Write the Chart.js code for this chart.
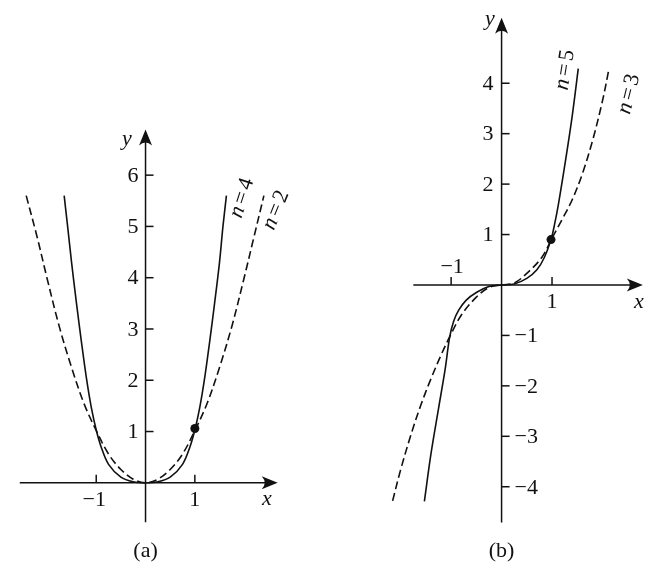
<!DOCTYPE html>
<html>
<head>
<meta charset="utf-8">
<script src="https://cdn.jsdelivr.net/npm/chart.js@4/dist/chart.umd.min.js"></script>
<style>
  html, body { margin: 0; padding: 0; background: #fff; }
  #wrap { position: relative; width: 655px; height: 568px; }
  canvas { display: block; }
  .pre { position: absolute; left: -1000px; top: 0; font-family: "Liberation Serif"; font-size: 22px; }
</style>
</head>
<body>
<div class="pre">0123456789 <i>nxy</i> (ab)=−</div>
<div id="wrap"><canvas id="c" width="655" height="568"></canvas></div>
<script>
// ---- Panel (a): y = x^2 (dashed) and y = x^4 (solid) ----
const xA_n2 = [-2.42, -2.2, -2.0, -1.75, -1.5, -1.25, -1.0, -0.75, -0.5, -0.25, 0, 0.25, 0.5, 0.75, 1.0, 1.25, 1.5, 1.75, 2.0, 2.2, 2.4];
const yA_n2 = [5.6, 4.8, 4.0, 3.05, 2.25, 1.55, 1.02, 0.56, 0.26, 0.07, 0, 0.07, 0.26, 0.56, 1.02, 1.55, 2.25, 3.05, 4.0, 4.8, 5.6];
const xA_n4 = [-1.65, -1.58, -1.5, -1.4, -1.3, -1.2, -1.1, -1.0, -0.9, -0.75, -0.5, -0.25, 0, 0.25, 0.5, 0.75, 0.9, 1.0, 1.1, 1.2, 1.3, 1.4, 1.5, 1.57, 1.64];
const yA_n4 = [5.6, 5.0, 4.3, 3.5, 2.75, 2.05, 1.47, 1.03, 0.7, 0.36, 0.11, 0.02, 0, 0.02, 0.11, 0.36, 0.7, 1.03, 1.47, 2.05, 2.75, 3.5, 4.3, 5.0, 5.6];
const dotA = [1.0, 1.06];
const xTicksA = [-1, 1];
const xTickLabelsA = ["\u22121", "1"];
const yTicksA = [1, 2, 3, 4, 5, 6];

// ---- Panel (b): y = x^3 (dashed) and y = x^5 (solid) ----
const xB_n3 = [-2.16, -2.0, -1.8, -1.6, -1.4, -1.2, -1.03, -0.8, -0.5, -0.25, 0, 0.25, 0.5, 0.8, 1.0, 1.2, 1.4, 1.6, 1.8, 2.0, 2.13];
const yB_n3 = [-4.28, -3.66, -2.98, -2.38, -1.86, -1.39, -1.03, -0.6, -0.24, -0.05, 0, 0.04, 0.23, 0.55, 0.93, 1.3, 1.69, 2.2, 2.85, 3.65, 4.29];
const xB_n5 = [-1.53, -1.4, -1.25, -1.12, -1.03, -0.95, -0.85, -0.7, -0.5, -0.25, 0, 0.25, 0.5, 0.7, 0.85, 0.98, 1.05, 1.13, 1.26, 1.4, 1.52];
const yB_n5 = [-4.29, -3.35, -2.45, -1.68, -1.04, -0.72, -0.5, -0.3, -0.15, -0.03, 0, 0.02, 0.13, 0.3, 0.55, 0.9, 1.2, 1.62, 2.42, 3.35, 4.29];
const dotB = [0.98, 0.9];
const xTicksB = [-1, 1];
const xTickLabelsB = ["\u22121", "1"];
const yTicksBpos = [1, 2, 3, 4];
const yTicksBneg = [-1, -2, -3, -4];

const pts = (xs, ys) => xs.map((x, i) => ({ x: x, y: ys[i] }));

const SERIF = '"Liberation Serif", "DejaVu Serif", serif';
const FS = 22;

function arrowHead(ctx, x, y, dir) {
  ctx.save();
  ctx.translate(x, y);
  if (dir === 'up') ctx.rotate(-Math.PI / 2);
  ctx.beginPath();
  ctx.moveTo(0, 0);
  ctx.lineTo(-16, -6.5);
  ctx.quadraticCurveTo(-10, 0, -16, 6.5);
  ctx.closePath();
  ctx.fillStyle = '#111';
  ctx.fill();
  ctx.restore();
}

function rotLabel(ctx, cx, cy, angDeg, num) {
  ctx.save();
  ctx.translate(cx, cy);
  ctx.rotate(angDeg * Math.PI / 180);
  ctx.fillStyle = '#111';
  ctx.textBaseline = 'middle';
  const fi = 'italic ' + FS + 'px ' + SERIF;
  const fu = FS + 'px ' + SERIF;
  ctx.font = fi; const wn = ctx.measureText('n').width;
  ctx.font = fu; const we = ctx.measureText('=').width; const wd = ctx.measureText(num).width;
  const gap = 3;
  const total = wn + gap + we + gap + wd;
  let x = -total / 2;
  ctx.font = fi; ctx.textAlign = 'left'; ctx.fillText('n', x, 0); x += wn + gap;
  ctx.font = fu; ctx.fillText('=', x, 0); x += we + gap;
  ctx.fillText(num, x, 0);
  ctx.restore();
}

const axesPlugin = {
  id: 'axesPlugin',
  beforeDatasetsDraw(chart) {
    const ctx = chart.ctx;
    const s = chart.scales;
    ctx.save();
    ctx.strokeStyle = '#111';
    ctx.fillStyle = '#111';
    ctx.lineWidth = 1.5;

    // ----- Panel (a) -----
    const ax0 = s.xa.getPixelForValue(0), ay0 = s.ya.getPixelForValue(0);
    const axL = s.xa.getPixelForValue(-2.55), axR = s.xa.getPixelForValue(2.68);
    const ayB = s.ya.getPixelForValue(-0.77), ayT = s.ya.getPixelForValue(6.89);
    ctx.beginPath(); ctx.moveTo(axL, ay0); ctx.lineTo(axR - 6, ay0); ctx.stroke();
    ctx.beginPath(); ctx.moveTo(ax0, ayB); ctx.lineTo(ax0, ayT + 6); ctx.stroke();
    arrowHead(ctx, axR, ay0, 'right');
    arrowHead(ctx, ax0, ayT, 'up');
    ctx.font = FS + 'px ' + SERIF;
    yTicksA.forEach(v => {
      const py = s.ya.getPixelForValue(v);
      ctx.beginPath(); ctx.moveTo(ax0, py); ctx.lineTo(ax0 + 8, py); ctx.stroke();
      ctx.textAlign = 'right'; ctx.textBaseline = 'middle';
      ctx.fillText(String(v), ax0 - 7, py + 1);
    });
    xTicksA.forEach((v, i) => {
      const px = s.xa.getPixelForValue(v);
      ctx.beginPath(); ctx.moveTo(px, ay0); ctx.lineTo(px, ay0 - 8); ctx.stroke();
      ctx.textAlign = 'center'; ctx.textBaseline = 'middle';
      ctx.fillText(xTickLabelsA[i], px - (v < 0 ? 2 : 0), ay0 + 17);
    });
    ctx.font = 'italic ' + FS + 'px ' + SERIF;
    ctx.textAlign = 'center'; ctx.textBaseline = 'middle';
    ctx.fillText('x', 267, ay0 + 16);
    ctx.fillText('y', 127, 139);
    ctx.font = FS + 'px ' + SERIF;
    ctx.fillText('(a)', ax0, 551);

    // ----- Panel (b) -----
    const bx0 = s.xb.getPixelForValue(0), by0 = s.yb.getPixelForValue(0);
    const bxL = s.xb.getPixelForValue(-1.75), bxR = s.xb.getPixelForValue(2.8);
    const byB = s.yb.getPixelForValue(-4.71), byT = s.yb.getPixelForValue(5.3);
    ctx.beginPath(); ctx.moveTo(bxL, by0); ctx.lineTo(bxR - 6, by0); ctx.stroke();
    ctx.beginPath(); ctx.moveTo(bx0, byB); ctx.lineTo(bx0, byT + 6); ctx.stroke();
    arrowHead(ctx, bxR, by0, 'right');
    arrowHead(ctx, bx0, byT, 'up');
    ctx.font = FS + 'px ' + SERIF;
    yTicksBpos.forEach(v => {
      const py = s.yb.getPixelForValue(v);
      ctx.beginPath(); ctx.moveTo(bx0, py); ctx.lineTo(bx0 + 8, py); ctx.stroke();
      ctx.textAlign = 'right'; ctx.textBaseline = 'middle';
      ctx.fillText(String(v), bx0 - 8, py + 1);
    });
    yTicksBneg.forEach(v => {
      const py = s.yb.getPixelForValue(v);
      ctx.beginPath(); ctx.moveTo(bx0, py); ctx.lineTo(bx0 + 8, py); ctx.stroke();
      ctx.textAlign = 'left'; ctx.textBaseline = 'middle';
      ctx.fillText('\u2212' + String(-v), bx0 + 13, py + 1);
    });
    xTicksB.forEach((v, i) => {
      const px = s.xb.getPixelForValue(v);
      ctx.beginPath(); ctx.moveTo(px, by0); ctx.lineTo(px, by0 - 8); ctx.stroke();
      ctx.textAlign = 'center'; ctx.textBaseline = 'middle';
      if (v < 0) ctx.fillText(xTickLabelsB[i], px + 1, by0 - 18);
      else ctx.fillText(xTickLabelsB[i], px, by0 + 17);
    });
    ctx.font = 'italic ' + FS + 'px ' + SERIF;
    ctx.textAlign = 'center'; ctx.textBaseline = 'middle';
    ctx.fillText('x', 639, by0 + 17);
    ctx.fillText('y', 490, 19);
    ctx.font = FS + 'px ' + SERIF;
    ctx.fillText('(b)', bx0, 551);

    ctx.restore();
  },
  afterDatasetsDraw(chart) {
    const ctx = chart.ctx;
    rotLabel(ctx, 242, 198, -72, '4');
    rotLabel(ctx, 276, 210, -68, '2');
    rotLabel(ctx, 565, 70, -81, '5');
    rotLabel(ctx, 629, 94, -76, '3');
  }
};

const lineDs = (data, xId, yId, dashed) => ({
  data: data,
  xAxisID: xId,
  yAxisID: yId,
  showLine: true,
  borderColor: '#111',
  borderWidth: 1.6,
  borderDash: dashed ? [8, 4] : [],
  pointRadius: 0,
  pointHoverRadius: 0,
  tension: 0.35,
  fill: false,
  clip: false
});
const dotDs = (p, xId, yId) => ({
  data: [{ x: p[0], y: p[1] }],
  xAxisID: xId,
  yAxisID: yId,
  showLine: false,
  pointRadius: 4.5,
  pointBackgroundColor: '#111',
  pointBorderColor: '#111',
  pointBorderWidth: 0,
  clip: false
});

function build() {
  new Chart(document.getElementById('c'), {
    type: 'scatter',
    data: {
      datasets: [
        lineDs(pts(xA_n2, yA_n2), 'xa', 'ya', true),
        lineDs(pts(xA_n4, yA_n4), 'xa', 'ya', false),
        dotDs(dotA, 'xa', 'ya'),
        lineDs(pts(xB_n3, yB_n3), 'xb', 'yb', true),
        lineDs(pts(xB_n5, yB_n5), 'xb', 'yb', false),
        dotDs(dotB, 'xb', 'yb')
      ]
    },
    options: {
      responsive: false,
      animation: false,
      events: [],
      layout: { padding: 0 },
      plugins: { legend: { display: false }, tooltip: { enabled: false } },
      scales: {
        xa: { type: 'linear', axis: 'x', display: false, bounds: 'data', min: -143 / 50, max: (655 - 143) / 50 },
        ya: { type: 'linear', axis: 'y', display: false, bounds: 'data', min: -(568 - 486) / 52.1, max: 486 / 52.1 },
        xb: { type: 'linear', axis: 'x', display: false, bounds: 'data', min: -504 / 51.15, max: (655 - 504) / 51.15 },
        yb: { type: 'linear', axis: 'y', display: false, bounds: 'data', min: -(568 - 285) / 51.25, max: 285 / 51.25 }
      }
    },
    plugins: [axesPlugin]
  });
}

Promise.all([
  document.fonts.load('22px "Liberation Serif"'),
  document.fonts.load('italic 22px "Liberation Serif"')
]).then(build, build);
</script>
</body>
</html>
